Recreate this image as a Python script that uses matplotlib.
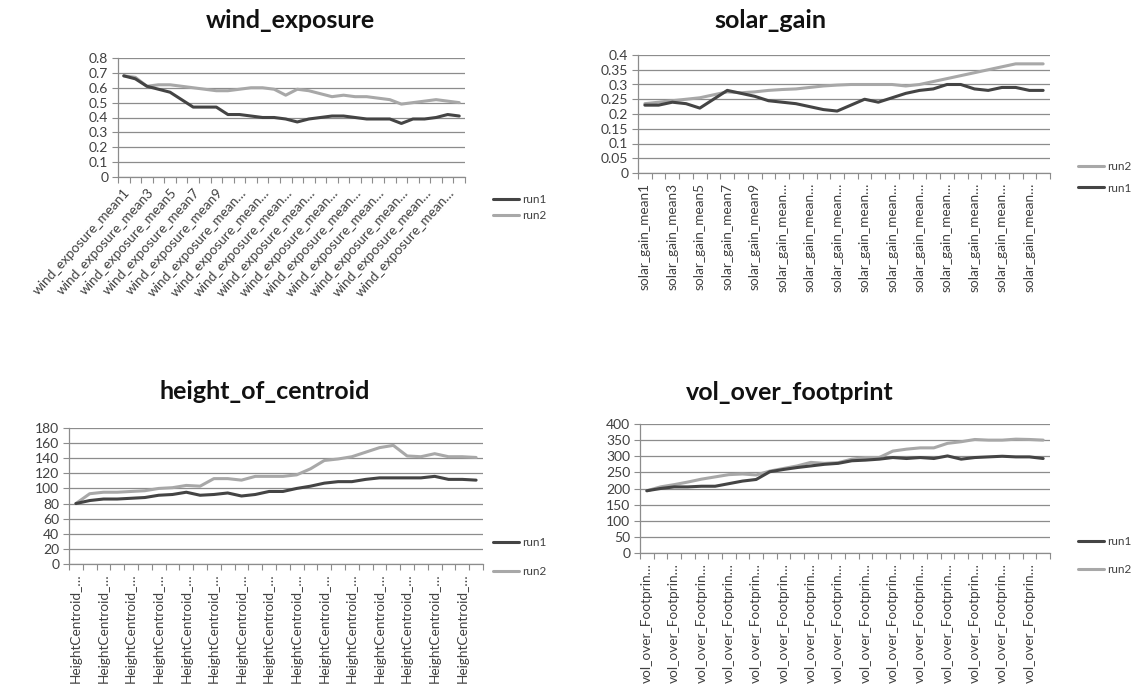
import numpy as np
import matplotlib
matplotlib.use("Agg")
import matplotlib.pyplot as plt
from matplotlib.ticker import FuncFormatter, MultipleLocator

plt.rcParams["font.family"] = ["Lato", "DejaVu Sans"]

W, H = 1143, 691

RUN1_COLOR = "#444444"
RUN2_COLOR = "#a8a8a8"
GRID_COLOR = "#8c8c8c"
TEXT_COLOR = "#404040"

# per-generation means for the two runs (30 generations each)
wind_run1 = [0.68, 0.66, 0.61, 0.59, 0.57, 0.52, 0.47, 0.47, 0.47, 0.42,
             0.42, 0.41, 0.40, 0.40, 0.39, 0.37, 0.39, 0.40, 0.41, 0.41,
             0.40, 0.39, 0.39, 0.39, 0.36, 0.39, 0.39, 0.40, 0.42, 0.41]
wind_run2 = [0.68, 0.67, 0.61, 0.62, 0.62, 0.61, 0.60, 0.59, 0.58, 0.58,
             0.59, 0.60, 0.60, 0.59, 0.55, 0.59, 0.58, 0.56, 0.54, 0.55,
             0.54, 0.54, 0.53, 0.52, 0.49, 0.50, 0.51, 0.52, 0.51, 0.50]

solar_run1 = [0.23, 0.23, 0.24, 0.235, 0.22, 0.25, 0.28, 0.27, 0.26, 0.245,
              0.24, 0.235, 0.225, 0.215, 0.21, 0.23, 0.25, 0.24, 0.255, 0.27,
              0.28, 0.285, 0.30, 0.30, 0.285, 0.28, 0.29, 0.29, 0.28, 0.28]
solar_run2 = [0.235, 0.24, 0.245, 0.25, 0.255, 0.265, 0.275, 0.272, 0.275, 0.28,
              0.283, 0.285, 0.29, 0.295, 0.298, 0.30, 0.30, 0.30, 0.30, 0.295,
              0.30, 0.31, 0.32, 0.33, 0.34, 0.35, 0.36, 0.37, 0.37, 0.37]

height_run1 = [80, 84, 86, 86, 87, 88, 91, 92, 95, 91,
               92, 94, 90, 92, 96, 96, 100, 103, 107, 109,
               109, 112, 114, 114, 114, 114, 116, 112, 112, 111]
height_run2 = [80, 93, 95, 95, 96, 97, 100, 101, 104, 103,
               113, 113, 111, 116, 116, 116, 118, 126, 137, 139,
               142, 148, 154, 157, 143, 142, 146, 142, 142, 141]

vol_run1 = [193, 200, 205, 205, 207, 207, 215, 223, 228, 252,
            259, 265, 270, 275, 278, 286, 288, 291, 296, 293,
            296, 293, 301, 291, 296, 298, 300, 298, 298, 293]
vol_run2 = [193, 205, 212, 220, 229, 236, 243, 245, 242, 254,
            262, 270, 281, 278, 280, 291, 296, 296, 316, 322,
            326, 326, 340, 345, 352, 350, 350, 353, 352, 350]

# category labels shown on every second tick, truncated the way the sheet shows them
wind_ticklabels = ["wind_exposure_mean1", "wind_exposure_mean3", "wind_exposure_mean5",
                   "wind_exposure_mean7", "wind_exposure_mean9"] + ["wind_exposure_mean…"] * 10
solar_ticklabels = ["solar_gain_mean1", "solar_gain_mean3", "solar_gain_mean5",
                    "solar_gain_mean7", "solar_gain_mean9"] + ["solar_gain_mean…"] * 10
height_ticklabels = ["HeightCentroid_…"] * 15
vol_ticklabels = ["vol_over_Footprin…"] * 15


def box(left, top, right, bottom):
    return [left / W, 1 - bottom / H, (right - left) / W, (bottom - top) / H]


def draw_panel(fig, rect, title, title_xy, run1, run2, ymax, ystep, ticklabels,
               rotation, legend_order, legend_xy, legend_gap):
    ax = fig.add_axes(box(*rect))
    x = np.arange(len(run1))
    lines = {}
    lines["run2"], = ax.plot(x, run2, color=RUN2_COLOR, lw=2.2, label="run2",
                             solid_capstyle="round", solid_joinstyle="round")
    lines["run1"], = ax.plot(x, run1, color=RUN1_COLOR, lw=2.2, label="run1",
                             solid_capstyle="round", solid_joinstyle="round")

    ax.set_xlim(-0.5, len(run1) - 0.5)
    ax.set_ylim(0, ymax)
    ax.yaxis.set_major_locator(MultipleLocator(ystep))
    ax.yaxis.set_major_formatter(FuncFormatter(lambda v, p: f"{v:g}"))
    ax.grid(axis="y", color=GRID_COLOR, lw=0.9)
    ax.set_axisbelow(True)

    # tick marks between categories, labels centred on every second category
    ax.set_xticks(np.arange(len(run1) + 1) - 0.5)
    ax.set_xticklabels([])
    ax.set_xticks(np.arange(0, len(run1), 2), minor=True)
    if rotation == 45:
        ax.set_xticklabels(ticklabels, minor=True, rotation=48, ha="right",
                           va="top", rotation_mode="anchor")
    else:
        ax.set_xticklabels(ticklabels, minor=True, rotation=90)
    ax.tick_params(axis="x", which="major", length=4, color=GRID_COLOR, width=0.8)
    ax.tick_params(axis="x", which="minor", length=0, pad=7, labelsize=9.8,
                   labelcolor=TEXT_COLOR)
    ax.tick_params(axis="y", length=4, color=GRID_COLOR, width=0.8, pad=3,
                   labelsize=10, labelcolor=TEXT_COLOR)

    for side in ("top", "right"):
        ax.spines[side].set_visible(False)
    for side in ("left", "bottom"):
        ax.spines[side].set_color(GRID_COLOR)
        ax.spines[side].set_linewidth(0.9)

    fig.text(title_xy[0] / W, 1 - title_xy[1] / H, title, ha="center", va="center",
             fontsize=18, fontweight="bold", color="#111111")

    ax.legend([lines[k] for k in legend_order], legend_order,
              loc="upper left", bbox_to_anchor=(legend_xy[0] / W, 1 - legend_xy[1] / H),
              bbox_transform=fig.transFigure, frameon=False, fontsize=8.5,
              handlelength=2.2, handletextpad=0.3, labelspacing=legend_gap,
              borderpad=0, borderaxespad=0, labelcolor=TEXT_COLOR)
    return ax


fig = plt.figure(figsize=(W / 100, H / 100), dpi=100)

draw_panel(fig, (118, 58, 465, 177), "wind_exposure", (290, 20),
           wind_run1, wind_run2, 0.8, 0.1, wind_ticklabels, 45,
           ["run1", "run2"], (493, 194), 0.45)
draw_panel(fig, (638, 55, 1050, 173), "solar_gain", (770, 20),
           solar_run1, solar_run2, 0.4, 0.05, solar_ticklabels, 90,
           ["run2", "run1"], (1078, 161), 0.9)
draw_panel(fig, (69, 428, 483, 564), "height_of_centroid", (265, 392),
           height_run1, height_run2, 180, 20, height_ticklabels, 90,
           ["run1", "run2"], (493, 537), 1.5)
draw_panel(fig, (640, 424, 1050, 553), "vol_over_footprint", (790, 393),
           vol_run1, vol_run2, 400, 50, vol_ticklabels, 90,
           ["run1", "run2"], (1078, 536), 1.45)

fig.savefig("out.png", dpi=100, facecolor="white")
